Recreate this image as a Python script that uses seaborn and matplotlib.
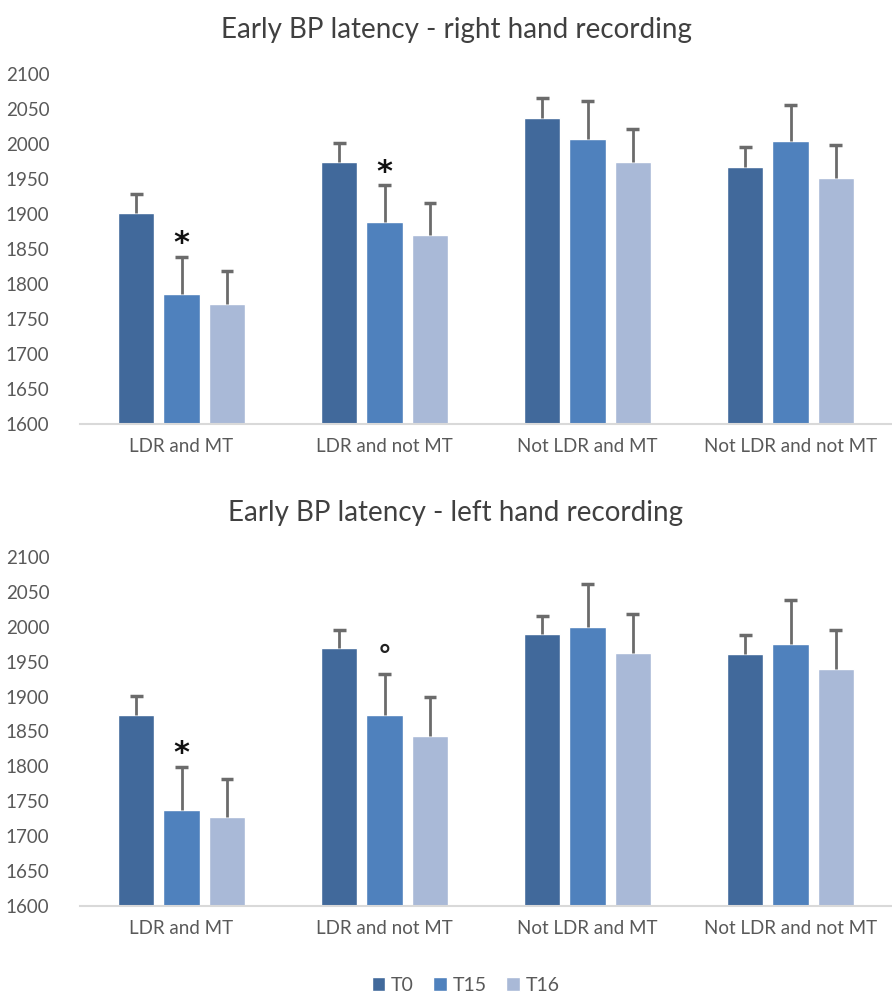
import numpy as np
import pandas as pd
import matplotlib
matplotlib.use("Agg")
import matplotlib.pyplot as plt
import seaborn as sns
from matplotlib.patches import Patch

categories = ["LDR and MT", "LDR and not MT", "Not LDR and MT", "Not LDR and not MT"]
series = ["T0", "T15", "T16"]

right_t0 = [1901, 1974, 2037, 1967]
right_t15 = [1785, 1888, 2007, 2004]
right_t16 = [1771, 1870, 1974, 1952]
right_err_t0 = [28, 28, 28, 28]
right_err_t15 = [54, 53, 54, 52]
right_err_t16 = [48, 46, 47, 47]
right_marks = {("LDR and MT", "T15"): "*", ("LDR and not MT", "T15"): "*"}

left_t0 = [1874, 1969, 1989, 1961]
left_t15 = [1738, 1874, 2000, 1976]
left_t16 = [1728, 1844, 1963, 1940]
left_err_t0 = [27, 26, 27, 27]
left_err_t15 = [61, 59, 62, 62]
left_err_t16 = [54, 55, 55, 55]
left_marks = {("LDR and MT", "T15"): "*", ("LDR and not MT", "T15"): "°"}

yticks = [1600, 1650, 1700, 1750, 1800, 1850, 1900, 1950, 2000, 2050, 2100]
colors = ["#41699B", "#4F81BD", "#A9B9D7"]

sns.set_theme(style="white")
plt.rcParams["font.family"] = ["Lato", "DejaVu Sans"]

fig = plt.figure(figsize=(8.92, 9.98), dpi=100)
ax_top = fig.add_axes([0.0897, 0.5752, 0.9103, 0.3507])
ax_bot = fig.add_axes([0.0897, 0.0922, 0.9103, 0.3497])


def draw(ax, vals, errs, marks, title):
    rows = []
    for s, v in zip(series, vals):
        for c, x in zip(categories, v):
            rows.append({"cat": c, "series": s, "value": x})
    df = pd.DataFrame(rows)
    sns.barplot(data=df, x="cat", y="value", hue="series", order=categories,
                hue_order=series, palette=colors, width=0.667, gap=0.2,
                saturation=1, errorbar=None, legend=False, ax=ax)
    for cont, s, v, e in zip(ax.containers, series, vals, errs):
        for bar, c, x, er in zip(cont, categories, v, e):
            cx = bar.get_x() + bar.get_width() / 2
            half = bar.get_width() * 0.17
            ax.vlines(cx, x, x + er, color="#6b6b6b", linewidth=2, zorder=3)
            ax.hlines(x + er, cx - half, cx + half, color="#6b6b6b",
                      linewidth=2.5, zorder=3)
            if (c, s) in marks:
                m = marks[(c, s)]
                if m == "*":
                    ax.annotate(m, (cx, x + er), xytext=(0, -1),
                                textcoords="offset points", ha="center", va="bottom",
                                fontsize=22, color="#111111", fontweight="bold",
                                family="DejaVu Sans")
                else:
                    ax.annotate(m, (cx, x + er), xytext=(0, 2),
                                textcoords="offset points", ha="center", va="bottom",
                                fontsize=20, color="#222222", fontweight="bold",
                                family="DejaVu Sans")
    ax.set_ylim(1600, 2100)
    ax.set_xlim(-0.5, 3.5)
    ax.set_yticks(yticks)
    ax.set_yticklabels([str(t) for t in yticks], fontsize=13.5, color="#595959")
    ax.tick_params(axis="y", length=0, pad=22)
    ax.tick_params(axis="x", length=0, pad=10, labelsize=13.5, labelcolor="#595959")
    ax.set_xlabel("")
    ax.set_ylabel("")
    for sp in ["top", "right", "left"]:
        ax.spines[sp].set_visible(False)
    ax.spines["bottom"].set_color("#D9D9D9")
    ax.spines["bottom"].set_linewidth(1.5)
    ax.set_title(title, fontsize=20, color="#404040", pad=26, x=0.463)


draw(ax_top, [right_t0, right_t15, right_t16],
     [right_err_t0, right_err_t15, right_err_t16], right_marks,
     "Early BP latency - right hand recording")
draw(ax_bot, [left_t0, left_t15, left_t16],
     [left_err_t0, left_err_t15, left_err_t16], left_marks,
     "Early BP latency - left hand recording")

handles = [Patch(facecolor=c, label=s) for c, s in zip(colors, series)]
fig.legend(handles=handles, loc="center", bbox_to_anchor=(0.522, 0.013), ncol=3,
           frameon=False, fontsize=14, handlelength=0.7, handleheight=0.7,
           handletextpad=0.3, columnspacing=1.0, labelcolor="#595959")

fig.savefig("out.png", dpi=100)
